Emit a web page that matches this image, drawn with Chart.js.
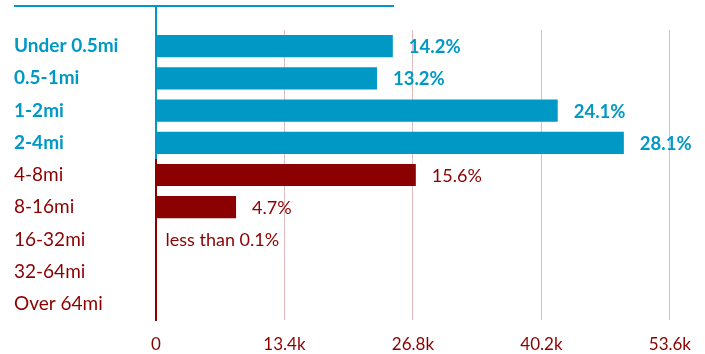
<!DOCTYPE html>
<html>
<head>
<meta charset="utf-8">
<script src="https://cdn.jsdelivr.net/npm/chart.js@4"></script>
<style>
  html, body { margin: 0; padding: 0; background: #fff; }
  #wrap { width: 705px; height: 354px; }
</style>
</head>
<body>
<div id="wrap"><canvas id="myCanvas"></canvas></div>
<script>
'use strict';

// data
const distanceLabels = ['Under 0.5mi', '0.5-1mi', '1-2mi', '2-4mi', '4-8mi', '8-16mi', '16-32mi', '32-64mi', 'Over 64mi'];
const tripCounts = [24700, 23050, 41900, 48800, 27100, 8350, 60, 0, 0];
const percentLabels = ['14.2%', '13.2%', '24.1%', '28.1%', '15.6%', '4.7%', 'less than 0.1%', '', ''];
const tickValues = [0, 13400, 26800, 40200, 53600];
const tickLabels = ['0', '13.4k', '26.8k', '40.2k', '53.6k'];

const blue = '#0099c6';
const red = '#8b0000';
const blueRows = 4; // first four rows are blue

function rowColor(i) {
  return i < blueRows ? blue : red;
}

// draws the value labels next to the bars, plus the axis line and top rule
const extrasPlugin = {
  id: 'extras',
  afterDatasetsDraw(chart) {
    const ctx = chart.ctx;
    const meta = chart.getDatasetMeta(0);
    const area = chart.chartArea;
    ctx.save();
    // top rule
    ctx.strokeStyle = blue;
    ctx.lineWidth = 2;
    ctx.beginPath();
    ctx.moveTo(14, 6);
    ctx.lineTo(394, 6);
    ctx.stroke();
    // axis line, blue then red
    const splitY = (meta.data[blueRows - 1].y + meta.data[blueRows].y) / 2;
    ctx.beginPath();
    ctx.moveTo(area.left, 6);
    ctx.lineTo(area.left, splitY);
    ctx.stroke();
    ctx.strokeStyle = red;
    ctx.beginPath();
    ctx.moveTo(area.left, splitY);
    ctx.lineTo(area.left, area.bottom + 1);
    ctx.stroke();
    // percent labels
    ctx.textBaseline = 'middle';
    ctx.textAlign = 'left';
    for (let i = 0; i < meta.data.length; i++) {
      if (!percentLabels[i]) continue;
      const bar = meta.data[i];
      ctx.fillStyle = rowColor(i);
      ctx.font = i < blueRows ? 'bold 18.5px Lato' : '18px Lato';
      ctx.fillText(percentLabels[i], bar.x + (tripCounts[i] > 1000 ? 16 : 9), bar.y + 1);
    }
    ctx.restore();
  }
};

const data = {
  labels: distanceLabels,
  datasets: [{
    data: tripCounts,
    backgroundColor: distanceLabels.map((d, i) => rowColor(i)),
    borderWidth: 0,
    barPercentage: 0.69,
    categoryPercentage: 1
  }]
};

const config = {
  type: 'bar',
  data: data,
  options: {
    indexAxis: 'y',
    responsive: true,
    maintainAspectRatio: false,
    animation: false,
    layout: {
      padding: { left: 14, top: 30, right: 0, bottom: 0 }
    },
    plugins: {
      legend: { display: false },
      tooltip: { enabled: false }
    },
    scales: {
      x: {
        min: 0,
        max: 57250,
        afterBuildTicks(scale) {
          scale.ticks = tickValues.map(v => ({ value: v }));
        },
        afterFit(scale) {
          scale.height = 34;
        },
        ticks: {
          color: red,
          font: { family: 'Lato', size: 17 },
          padding: 14,
          maxRotation: 0,
          callback: (v, i) => tickLabels[i]
        },
        grid: {
          color: '#e2bcbc',
          lineWidth: 1,
          drawTicks: false
        },
        border: { display: false }
      },
      y: {
        afterFit(scale) {
          scale.width = 142;
        },
        ticks: {
          crossAlign: 'far',
          padding: 0,
          color: distanceLabels.map((d, i) => rowColor(i)),
          font: (c) => ({ family: 'Lato', size: 19, weight: c.index < blueRows ? 'bold' : 'normal' })
        },
        grid: { display: false, drawTicks: false },
        border: { display: false }
      }
    }
  },
  plugins: [extrasPlugin]
};

const myChart = new Chart(document.getElementById('myCanvas'), config);
</script>
</body>
</html>
